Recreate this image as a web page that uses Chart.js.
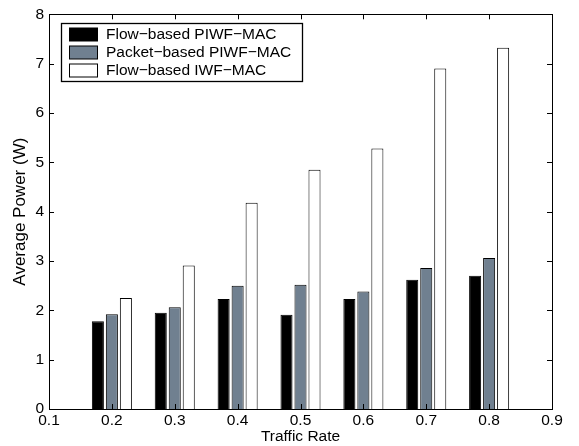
<!DOCTYPE html>
<html>
<head>
<meta charset="utf-8">
<script src="https://cdn.jsdelivr.net/npm/chart.js@4"></script>
<style>
  body { margin: 0; background: #fff; }
  canvas { display: block; }
</style>
</head>
<body>
<canvas id="chart" width="579" height="446"></canvas>
<script>
  /* data */
  var rates = [0.2, 0.3, 0.4, 0.5, 0.6, 0.7, 0.8];
  var flowPiwf = [1.78, 1.95, 2.23, 1.91, 2.23, 2.62, 2.70];
  var packetPiwf = [1.92, 2.06, 2.50, 2.52, 2.38, 2.86, 3.06];
  var flowIwf = [2.25, 2.91, 4.18, 4.85, 5.28, 6.90, 7.32];
  var seriesNames = ["Flow\u2212based PIWF\u2212MAC", "Packet\u2212based PIWF\u2212MAC", "Flow\u2212based IWF\u2212MAC"];
  var seriesColors = ["#000000", "#708090", "#ffffff"];
  var xTicks = [0.1, 0.2, 0.3, 0.4, 0.5, 0.6, 0.7, 0.8, 0.9];
  var yTicks = [0, 1, 2, 3, 4, 5, 6, 7, 8];

  var FONT = "'Liberation Sans', Arial, Helvetica, sans-serif";
  var FSIZE = 15.5;

  function points(vals) {
    return rates.map(function (r, i) { return { x: r, y: vals[i] }; });
  }

  // box round the plot, inward ticks on all four sides, boxed legend
  var framePlugin = {
    id: "frame",
    afterDraw: function (chart) {
      var ctx = chart.ctx, a = chart.chartArea;
      var xs = chart.scales.x, ys = chart.scales.y;
      var tl = 5;
      ctx.save();
      ctx.strokeStyle = "#000";
      ctx.lineWidth = 1;
      ctx.beginPath();
      xTicks.forEach(function (v) {
        var px = Math.round(xs.getPixelForValue(v)) + 0.5;
        ctx.moveTo(px, a.bottom); ctx.lineTo(px, a.bottom - tl);
        ctx.moveTo(px, a.top); ctx.lineTo(px, a.top + tl);
      });
      yTicks.forEach(function (v) {
        var py = Math.round(ys.getPixelForValue(v)) + 0.5;
        ctx.moveTo(a.left, py); ctx.lineTo(a.left + tl, py);
        ctx.moveTo(a.right, py); ctx.lineTo(a.right - tl, py);
      });
      ctx.stroke();
      ctx.strokeRect(Math.round(a.left) + 0.5, Math.round(a.top) + 0.5,
        Math.round(a.right - a.left), Math.round(a.bottom - a.top));

      // legend
      var lx = 61, ly = 23, lw = 241, lh = 58;
      ctx.fillStyle = "#fff";
      ctx.fillRect(lx, ly, lw, lh);
      ctx.lineWidth = 1.3;
      ctx.strokeRect(lx + 0.5, ly + 0.5, lw, lh);
      ctx.lineWidth = 1;
      ctx.font = FSIZE + "px " + FONT;
      ctx.textBaseline = "middle";
      ctx.textAlign = "left";
      chart.data.datasets.forEach(function (ds, i) {
        var cy = 34.5 + i * 18;
        ctx.fillStyle = ds.backgroundColor;
        ctx.fillRect(69, cy - 6.5, 28, 13);
        ctx.strokeStyle = "#000";
        ctx.strokeRect(69.5, cy - 6.5, 28, 13);
        ctx.fillStyle = "#000";
        ctx.fillText(ds.label, 106, cy + 0.5);
      });
      ctx.restore();
    }
  };

  new Chart(document.getElementById("chart"), {
    type: "bar",
    data: {
      datasets: [flowPiwf, packetPiwf, flowIwf].map(function (vals, i) {
        return {
          label: seriesNames[i],
          data: points(vals),
          backgroundColor: seriesColors[i],
          borderColor: "#000",
          borderWidth: 1,
          borderSkipped: "bottom",
          categoryPercentage: 0.668,
          barPercentage: 0.86
        };
      })
    },
    options: {
      responsive: false,
      animation: false,
      layout: { padding: { top: 13, right: 27, left: 0, bottom: 0 } },
      plugins: { legend: { display: false }, tooltip: { enabled: false } },
      scales: {
        x: {
          type: "linear",
          min: 0.1,
          max: 0.9,
          offset: false,
          afterFit: function (s) { s.height = 37; },
          afterBuildTicks: function (s) {
            s.ticks = xTicks.map(function (v) { return { value: v }; });
          },
          grid: { display: false, drawTicks: false },
          border: { display: false },
          ticks: {
            padding: 2,
            color: "#000",
            font: { family: FONT, size: FSIZE },
            maxRotation: 0,
            callback: function (v) { return Number(v).toFixed(1); }
          },
          title: {
            display: true,
            text: "Traffic Rate",
            color: "#000",
            font: { family: FONT, size: FSIZE },
            padding: { top: 0, bottom: 0 }
          }
        },
        y: {
          min: 0,
          max: 8,
          afterFit: function (s) { s.width = 49; },
          afterBuildTicks: function (s) {
            s.ticks = yTicks.map(function (v) { return { value: v }; });
          },
          grid: { display: false, drawTicks: false },
          border: { display: false },
          ticks: {
            padding: 5,
            color: "#000",
            font: { family: FONT, size: FSIZE }
          },
          title: {
            display: true,
            text: "Average Power (W)",
            color: "#000",
            font: { family: FONT, size: 17 },
            padding: { top: 10, bottom: 0 }
          }
        }
      }
    },
    plugins: [framePlugin]
  });
</script>
</body>
</html>
